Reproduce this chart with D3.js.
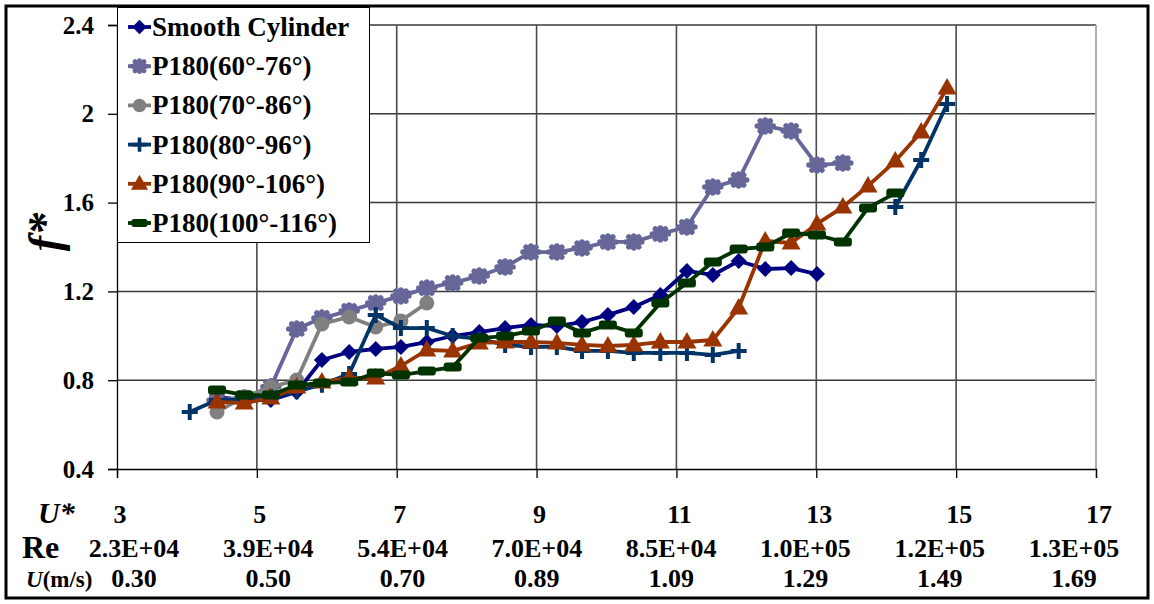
<!DOCTYPE html>
<html>
<head>
<meta charset="utf-8">
<script src="https://cdn.jsdelivr.net/npm/d3@7"></script>
<style>
  html, body { margin: 0; padding: 0; background: #fff; }
  svg { display: block; }
  text { font-family: "Liberation Serif", "Times New Roman", serif; font-weight: bold; fill: #000; }
</style>
</head>
<body>
<svg id="chart" width="1154" height="604"></svg>
<script>
// ---------- data ----------
const uStar = [4.04, 4.43, 4.82, 5.20, 5.57, 5.93, 6.32, 6.70, 7.06, 7.43, 7.80, 8.18, 8.55, 8.92, 9.29,
               9.65, 10.02, 10.39, 10.77, 11.15, 11.52, 11.89, 12.27, 12.64, 13.01, 13.38, 13.74, 14.13, 14.50, 14.87];

const smoothCylinder = [null, 0.724, 0.711, 0.711, 0.747, 0.891, 0.927, 0.941, 0.950, 0.972, 0.999, 1.017, 1.035, 1.049, 1.044,
                        1.062, 1.094, 1.130, 1.184, 1.292, 1.274, 1.337, 1.301, 1.305, 1.278, null, null, null, null, null];
const p180_60_76 = [null, 0.710, 0.720, 0.770, 1.031, 1.080, 1.112, 1.148, 1.179, 1.215, 1.238, 1.269, 1.310, 1.377, 1.377,
                    1.395, 1.423, 1.423, 1.459, 1.490, 1.670, 1.702, 1.945, 1.923, 1.769, 1.778, null, null, null, null];
const p180_70_86 = [null, 0.657, 0.725, 0.769, 0.801, 1.053, 1.085, 1.040, 1.067, 1.148, null, null, null, null, null,
                    null, null, null, null, null, null, null, null, null, null, null, null, null, null, null];
const p180_80_96 = [0.657, 0.711, 0.711, 0.724, 0.750, 0.780, 0.828, 1.094, 1.035, 1.035, 0.999, 0.986, 0.959, 0.950, 0.950,
                    0.932, 0.932, 0.923, 0.923, 0.923, 0.914, 0.932, null, null, null, null, null, 1.580, 1.792, 2.044];
const p180_90_106 = [null, 0.702, 0.697, 0.720, 0.769, 0.792, 0.810, 0.810, 0.864, 0.936, 0.932, 0.968, 0.972, 0.972, 0.968,
                     0.959, 0.954, 0.959, 0.972, 0.972, 0.981, 1.125, 1.427, 1.418, 1.504, 1.580, 1.675, 1.787, 1.918, 2.116];
const p180_100_116 = [null, 0.756, 0.733, 0.733, 0.778, 0.787, 0.792, 0.832, 0.823, 0.841, 0.859, 0.990, 0.999, 1.022, 1.067,
                      1.013, 1.049, 1.013, 1.148, 1.238, 1.332, 1.391, 1.400, 1.463, 1.454, 1.423, 1.576, 1.643, null, null];

const seriesNames = ["Smooth Cylinder", "P180(60°-76°)", "P180(70°-86°)", "P180(80°-96°)", "P180(90°-106°)", "P180(100°-116°)"];
const seriesValues = [smoothCylinder, p180_60_76, p180_70_86, p180_80_96, p180_90_106, p180_100_116];
const seriesColors = ["#000080", "#666699", "#808080", "#003366", "#993300", "#003300"];
const seriesMarkers = ["diamond", "star", "circle", "plus", "triangle", "dash"];

const uTicks = [3, 5, 7, 9, 11, 13, 15, 17];
const reLabels = ["2.3E+04", "3.9E+04", "5.4E+04", "7.0E+04", "8.5E+04", "1.0E+05", "1.2E+05", "1.3E+05"];
const uLabels = ["0.30", "0.50", "0.70", "0.89", "1.09", "1.29", "1.49", "1.69"];
const fTicks = [0.4, 0.8, 1.2, 1.6, 2.0, 2.4];

// ---------- layout ----------
const svg = d3.select("#chart");
const x = d3.scaleLinear().domain([3, 17]).range([117, 1096]);
const y = d3.scaleLinear().domain([0.4, 2.4]).range([469, 25]);
const labelCol = d3.scalePoint().domain(d3.range(reLabels.length)).range([134, 1074]);

// outer frame
svg.append("rect").attr("x", 6).attr("y", 6).attr("width", 1142).attr("height", 592)
  .attr("fill", "#fff").attr("stroke", "#000").attr("stroke-width", 3);

// gridlines
svg.append("g").selectAll("line").data(fTicks.filter(d => d > 0.4)).join("line")
  .attr("x1", x(3)).attr("x2", x(17)).attr("y1", d => y(d)).attr("y2", d => y(d))
  .attr("stroke", "#3a3a3a").attr("stroke-width", 1.5);
svg.append("g").selectAll("line").data(uTicks.filter(d => d > 3 && d < 17)).join("line")
  .attr("x1", d => x(d)).attr("x2", d => x(d)).attr("y1", y(2.4)).attr("y2", y(0.4))
  .attr("stroke", "#4a4a4a").attr("stroke-width", 1.6);
svg.append("line").attr("x1", x(17)).attr("x2", x(17)).attr("y1", y(2.4)).attr("y2", y(0.4))
  .attr("stroke", "#b0b0b0").attr("stroke-width", 2);

// y axis
const yAxis = d3.axisLeft(y).tickValues(fTicks).tickSize(9).tickPadding(14)
  .tickFormat(d => d3.format("~g")(d));
const gy = svg.append("g").attr("transform", `translate(${x(3)},0)`).call(yAxis);
gy.select(".domain").attr("stroke", "#000").attr("stroke-width", 1.3);
gy.selectAll(".tick line").attr("stroke", "#000").attr("stroke-width", 1.3);
gy.selectAll(".tick text").style("font-size", "25px").style("font-family", '"Liberation Serif", serif')
  .style("font-weight", "bold").attr("fill", "#000");

// x axis
const xAxis = d3.axisBottom(x).tickValues(uTicks).tickSize(9).tickFormat("");
const gx = svg.append("g").attr("transform", `translate(0,${y(0.4)})`).call(xAxis);
gx.select(".domain").attr("stroke", "#000").attr("stroke-width", 1.3);
gx.selectAll(".tick line").attr("stroke", "#000").attr("stroke-width", 1.3);

// axis title f*
svg.append("text").attr("transform", "translate(60,232) rotate(-90)")
  .attr("text-anchor", "middle").style("font-size", "46px").style("font-style", "italic").text("f*");

// bottom rows
svg.append("text").attr("x", 38).attr("y", 523).style("font-size", "30px").style("font-style", "italic").text("U*");
svg.append("g").selectAll("text").data(uTicks).join("text")
  .attr("x", d => x(d) + 3).attr("y", 523).attr("text-anchor", "middle").style("font-size", "26px")
  .text(d => d);
svg.append("text").attr("x", 22).attr("y", 558).style("font-size", "32px").text("Re");
svg.append("g").selectAll("text").data(reLabels).join("text")
  .attr("x", (d, i) => labelCol(i)).attr("y", 557).attr("text-anchor", "middle").style("font-size", "26px")
  .text(d => d);
const ut = svg.append("text").attr("x", 26).attr("y", 587).style("font-size", "23px");
ut.append("tspan").style("font-style", "italic").text("U");
ut.append("tspan").text("(m/s)");
svg.append("g").selectAll("text").data(uLabels).join("text")
  .attr("x", (d, i) => labelCol(i)).attr("y", 587).attr("text-anchor", "middle").style("font-size", "26px")
  .text(d => d);

// ---------- markers ----------
function drawMarker(g, type, color, cx, cy, scale) {
  const s = scale || 1;
  const m = g.append("g").attr("transform", `translate(${cx},${cy}) scale(${s})`);
  if (type === "diamond") {
    m.append("path").attr("d", "M0,-8L8,0L0,8L-8,0Z").attr("fill", color);
  } else if (type === "circle") {
    m.append("circle").attr("r", 7.5).attr("fill", color);
  } else if (type === "triangle") {
    m.append("path").attr("d", "M0,-10L9.5,6.5L-9.5,6.5Z").attr("fill", color);
  } else if (type === "plus") {
    m.append("path").attr("d", "M-8,0H8M0,-8V8").attr("stroke", color).attr("stroke-width", 4).attr("fill", "none");
  } else if (type === "dash") {
    m.append("rect").attr("x", -9).attr("y", -4.5).attr("width", 18).attr("height", 9).attr("rx", 3).attr("fill", color);
  } else if (type === "star") {
    m.append("path").attr("d", "M-8,0H8M-5,-5L5,5M-5,5L5,-5M0,-6V6").attr("stroke", color)
      .attr("stroke-width", 5.5).attr("fill", "none").attr("stroke-linecap", "round");
  }
}

const line = d3.line().defined(d => d[1] != null).x(d => x(d[0])).y(d => y(d[1]));
const plot = svg.append("g");
seriesValues.forEach((vals, si) => {
  const pts = uStar.map((u, i) => [u, vals[i]]);
  const g = plot.append("g");
  g.append("path").datum(pts).attr("d", line).attr("fill", "none")
    .attr("stroke", seriesColors[si]).attr("stroke-width", 3.8).attr("stroke-linejoin", "round");
  pts.filter(p => p[1] != null).forEach(p => drawMarker(g, seriesMarkers[si], seriesColors[si], x(p[0]), y(p[1])));
});

// ---------- legend ----------
const lg = svg.append("g");
lg.append("rect").attr("x", 117.5).attr("y", 7.5).attr("width", 252).attr("height", 235)
  .attr("fill", "#fff").attr("stroke", "#000").attr("stroke-width", 1);
seriesNames.forEach((name, i) => {
  const cy = 27 + i * 39.2;
  lg.append("line").attr("x1", 128).attr("x2", 151).attr("y1", cy).attr("y2", cy)
    .attr("stroke", seriesColors[i]).attr("stroke-width", 3.8);
  drawMarker(lg, seriesMarkers[i], seriesColors[i], 139.5, cy, 0.9);
  lg.append("text").attr("x", 152).attr("y", cy + 9).style("font-size", "27px").text(name);
});
</script>
</body>
</html>
